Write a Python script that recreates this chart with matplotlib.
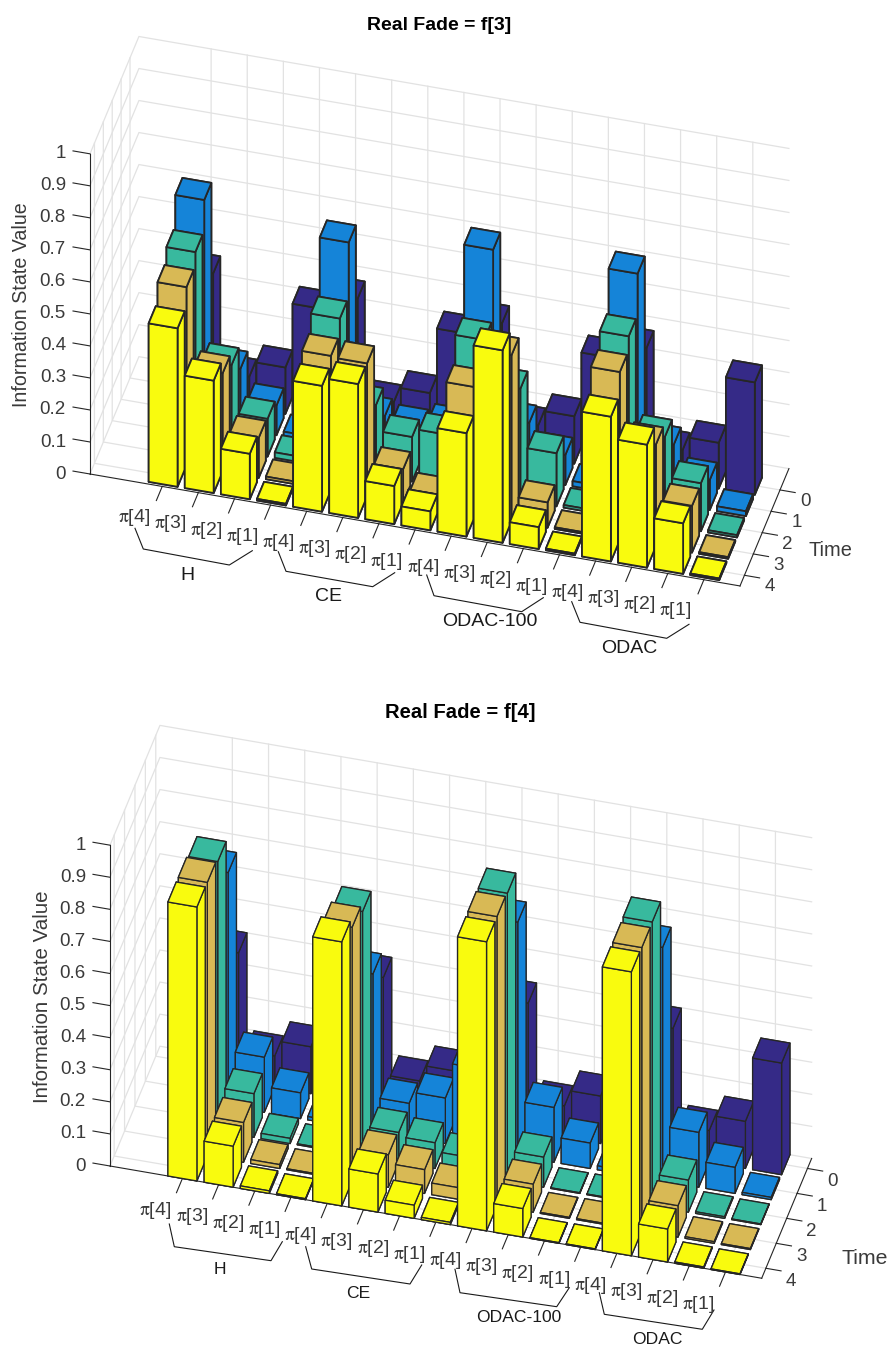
import matplotlib
matplotlib.use('Agg')
import matplotlib.pyplot as plt
from matplotlib.lines import Line2D
from mpl_toolkits.mplot3d import proj3d

plt.rcParams['font.family'] = ['Liberation Sans', 'DejaVu Sans']
plt.rcParams['mathtext.fontset'] = 'stix'

W, H = 894, 1353

# ---------- data (rows = Time 0..4, columns = 16 policy positions) ----------
top_t0 = [.400, .097, .145, .348, .399, .095, .143, .348, .400, .100, .148, .351, .400, .101, .143, .351]
top_t1 = [.696, .188, .093, .015, .641, .118, .104, .126, .696, .175, .094, .016, .699, .184, .094, .015]
top_t2 = [.600, .266, .118, .017, .470, .219, .139, .165, .481, .348, .166, .008, .570, .275, .150, .007]
top_t3 = [.557, .307, .125, .008, .420, .416, .105, .044, .400, .519, .079, .005, .525, .318, .146, .005]
top_t4 = [.495, .351, .142, .005, .393, .418, .119, .059, .323, .601, .068, .005, .452, .384, .158, .005]

bot_t0 = [.400, .098, .146, .350, .401, .098, .148, .350, .399, .098, .148, .350, .398, .099, .147, .348]
bot_t1 = [.728, .172, .080, .010, .490, .106, .142, .252, .729, .171, .079, .012, .728, .171, .081, .007]
bot_t2 = [.840, .136, .016, .003, .762, .093, .080, .053, .897, .094, .002, .002, .885, .100, .005, .002]
bot_t3 = [.853, .124, .012, .003, .791, .101, .074, .036, .902, .087, .003, .003, .883, .098, .005, .003]
bot_t4 = [.854, .128, .008, .003, .823, .119, .041, .007, .901, .089, .002, .002, .885, .103, .004, .002]

positions = list(range(1, 17))
times = [0, 1, 2, 3, 4]
pi_labels = [r'$\mathrm{\pi}$[4]', r'$\mathrm{\pi}$[3]', r'$\mathrm{\pi}$[2]', r'$\mathrm{\pi}$[1]'] * 4
z_ticks = [0, .1, .2, .3, .4, .5, .6, .7, .8, .9, 1]
z_labels = ['0', '0.1', '0.2', '0.3', '0.4', '0.5', '0.6', '0.7', '0.8', '0.9', '1']
row_colors = ['#352A87', '#1584D8', '#38B99E', '#D8B955', '#F9FB0E']

EDGE = '#262626'
TXT = '#3A3A3A'
GRID = '#E2E2E2'

fig = plt.figure(figsize=(W / 100, H / 100), dpi=100, facecolor='white')


def pix(ax, x, y, z):
    xp, yp, _ = proj3d.proj_transform(x, y, z, ax.get_proj())
    return ax.transData.transform((xp, yp))


def label3d(ax, x, y, z, s, **kw):
    # text placed at the projected position of a 3D point
    p = pix(ax, x, y, z)
    fig.text(p[0] / W, p[1] / H, s, color=TXT, zorder=500, **kw)


def panel(rows, ylim, origin, width_px, aspect, edge_lw, tick_len, lab_a, lab_b):
    ax = fig.add_axes([0.1, 0.1, 0.6, 0.6 * W / H], projection='3d', proj_type='ortho')
    ax.patch.set_alpha(0)
    ax.view_init(elev=40, azim=-75)
    for t, vals, col in zip(times, rows, row_colors):
        for x, v in zip(positions, vals):
            ax.bar3d(x - .4, t - .4, 0, .8, .8, v, color=col, edgecolor=EDGE,
                     linewidth=edge_lw, shade=False, zorder=10 + t * 20 + x)
    ax.computed_zorder = False
    ax.set_xlim(-1, 17)
    ax.set_ylim(ylim[1], ylim[0])
    ax.set_zlim(0, 1)
    ax.set_box_aspect(aspect)
    ax.grid(False)
    ax.set_xticks([])
    ax.set_yticks([])
    ax.set_zticks([])
    for a in (ax.xaxis, ax.yaxis, ax.zaxis):
        a.set_pane_color((1, 1, 1, 0))
        a.pane.set_edgecolor((1, 1, 1, 0))
        a.line.set_color((1, 1, 1, 0))

    # scale and place the axes so the floor's front edge lands on the wanted pixels
    y_front, y_back = ylim[1], ylim[0]
    side = 0.6 * W
    ax.apply_aspect()
    p0 = pix(ax, -1, y_front, 0)
    p1 = pix(ax, 17, y_front, 0)
    side *= width_px / (p1[0] - p0[0])
    ax.set_position([0, 0, side / W, side / H])
    ax.apply_aspect()
    p0 = pix(ax, -1, y_front, 0)
    ax.set_position([(origin[0] - p0[0]) / W, ((H - origin[1]) - p0[1]) / H, side / W, side / H])
    ax.apply_aspect()

    # grid on floor and the two far walls
    gk = dict(color=GRID, lw=0.9, zorder=1)
    for x in positions:
        ax.plot([x, x, x], [y_front, y_back, y_back], [0, 0, 1], **gk)
    for t in times:
        ax.plot([17, -1, -1], [t, t, t], [0, 0, 1], **gk)
    for z in z_ticks:
        ax.plot([-1, -1, 17], [y_front, y_back, y_back], [z, z, z], **gk)

    # axis lines, ticks and tick labels
    kw = dict(color=EDGE, lw=0.8, zorder=5)
    ax.plot([-1, 17], [y_front, y_front], [0, 0], **kw)
    ax.plot([17, 17], [y_front, y_back], [0, 0], **kw)
    ax.plot([-1, -1], [y_front, y_front], [0, 1], **kw)
    for x, lab in zip(positions, pi_labels):
        ax.plot([x, x], [y_front, y_front + tick_len], [0, 0], **kw)
        label3d(ax, x + lab_a, y_front + lab_b, 0, lab, ha='center', va='center', fontsize=14)
    for t in times:
        ax.plot([17, 17.42], [t, t], [0, 0], **kw)
        label3d(ax, 17.78, t + .32, 0, str(t), ha='center', va='center', fontsize=13.5)
    for z, lab in zip(z_ticks, z_labels):
        ax.plot([-1, -1.47], [y_front, y_front], [z, z], **kw)
        label3d(ax, -1.665, y_front, z - .013, lab, ha='right', va='center', fontsize=13.5)
    return ax


panel([top_t0, top_t1, top_t2, top_t3, top_t4], (-1, 4.5), (90, 474), 650, (673, 189, 418),
      1.3, .66, -.40, 1.58)
panel([bot_t0, bot_t1, bot_t2, bot_t3, bot_t4], (-.4, 4.4), (110, 1166), 651.7, (675, 193, 419),
      0.95, .57, -.35, 1.38)


def ftext(x, y, s, **kw):
    fig.text(x / W, 1 - y / H, s, ha='center', va='center', **kw)


ftext(439, 25, 'Real Fade = f[3]', fontsize=14, fontweight='bold', color='black')
ftext(460, 713, 'Real Fade = f[4]', fontsize=14.6, fontweight='bold', color='black')
ftext(22, 305, 'Information State Value', fontsize=14.1, rotation=90, color=TXT)
ftext(43, 997, 'Information State Value', fontsize=14.8, rotation=90, color=TXT)
ftext(830, 551, 'Time', fontsize=14.4, color=TXT)
ftext(865, 1258, 'Time', fontsize=15.3, color=TXT)

group_labels_top = [('H', 187.7, 575), ('CE', 328.3, 596.7), ('ODAC-100', 490, 622), ('ODAC', 629.3, 648.3)]
group_labels_bot = [('H', 220, 1270), ('CE', 358.3, 1294), ('ODAC-100', 519, 1318), ('ODAC', 657.7, 1340)]
for s, x, y in group_labels_top:
    ftext(x, y, s, fontsize=14, color='#1A1A1A')
for s, x, y in group_labels_bot:
    ftext(x, y, s, fontsize=12.6, color='#1A1A1A')

brackets = [
    [(135, 528.3), (143.3, 549), (229.3, 565), (252.3, 550.7)],
    [(278.3, 551.7), (286, 571.3), (372.7, 586.7), (394.7, 572.7)],
    [(426.7, 575), (434, 595.7), (521.7, 611.7), (543.3, 597.7)],
    [(571.7, 601.7), (580, 622.3), (666.7, 638.3), (689, 624.3)],
    [(169.3, 1224), (174.3, 1246.7), (271, 1260.7), (282.3, 1241.7)],
    [(305.7, 1246.7), (311.7, 1269), (410, 1284), (421.7, 1265)],
    [(455, 1269.3), (460, 1292.7), (556.7, 1306.7), (569.3, 1287.7)],
    [(599.3, 1292.7), (604.3, 1314.3), (702.3, 1329.3), (714, 1310)],
]
for b in brackets:
    xs = [p[0] / W for p in b]
    ys = [1 - p[1] / H for p in b]
    fig.add_artist(Line2D(xs, ys, color='#1A1A1A', lw=0.8, transform=fig.transFigure))

fig.savefig('out.png', dpi=100, facecolor='white')
